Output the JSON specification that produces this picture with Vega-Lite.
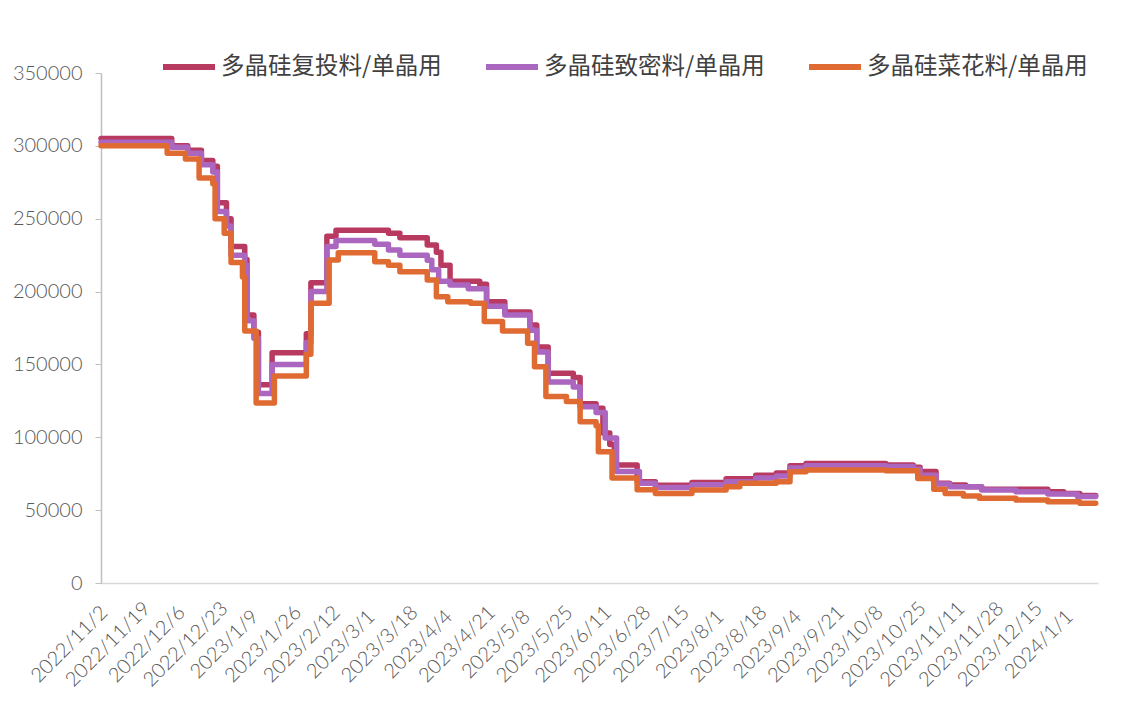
{
  "$schema": "https://vega.github.io/schema/vega-lite/v6.json",
  "width": 997,
  "height": 510,
  "autosize": {"type": "none"},
  "padding": {"left": 101, "top": 73, "right": 24, "bottom": 139},
  "background": "white",
  "config": {"view": {"stroke": null}},
  "data": {"values": [
    {"date": "2022-11-02", "series": "多晶硅复投料/单晶用", "price": 305000},
    {"date": "2022-12-03", "series": "多晶硅复投料/单晶用", "price": 300000},
    {"date": "2022-12-10", "series": "多晶硅复投料/单晶用", "price": 297000},
    {"date": "2022-12-16", "series": "多晶硅复投料/单晶用", "price": 290000},
    {"date": "2022-12-21", "series": "多晶硅复投料/单晶用", "price": 286000},
    {"date": "2022-12-23", "series": "多晶硅复投料/单晶用", "price": 261000},
    {"date": "2022-12-27", "series": "多晶硅复投料/单晶用", "price": 250000},
    {"date": "2022-12-29", "series": "多晶硅复投料/单晶用", "price": 231000},
    {"date": "2023-01-04", "series": "多晶硅复投料/单晶用", "price": 222000},
    {"date": "2023-01-05", "series": "多晶硅复投料/单晶用", "price": 184000},
    {"date": "2023-01-08", "series": "多晶硅复投料/单晶用", "price": 172000},
    {"date": "2023-01-10", "series": "多晶硅复投料/单晶用", "price": 136000},
    {"date": "2023-01-16", "series": "多晶硅复投料/单晶用", "price": 158000},
    {"date": "2023-01-31", "series": "多晶硅复投料/单晶用", "price": 171000},
    {"date": "2023-02-02", "series": "多晶硅复投料/单晶用", "price": 206000},
    {"date": "2023-02-09", "series": "多晶硅复投料/单晶用", "price": 238000},
    {"date": "2023-02-13", "series": "多晶硅复投料/单晶用", "price": 242000},
    {"date": "2023-03-08", "series": "多晶硅复投料/单晶用", "price": 240000},
    {"date": "2023-03-13", "series": "多晶硅复投料/单晶用", "price": 237000},
    {"date": "2023-03-25", "series": "多晶硅复投料/单晶用", "price": 232000},
    {"date": "2023-03-29", "series": "多晶硅复投料/单晶用", "price": 227000},
    {"date": "2023-03-31", "series": "多晶硅复投料/单晶用", "price": 218000},
    {"date": "2023-04-04", "series": "多晶硅复投料/单晶用", "price": 207000},
    {"date": "2023-04-17", "series": "多晶硅复投料/单晶用", "price": 205000},
    {"date": "2023-04-20", "series": "多晶硅复投料/单晶用", "price": 193000},
    {"date": "2023-04-28", "series": "多晶硅复投料/单晶用", "price": 186000},
    {"date": "2023-05-09", "series": "多晶硅复投料/单晶用", "price": 177000},
    {"date": "2023-05-12", "series": "多晶硅复投料/单晶用", "price": 162000},
    {"date": "2023-05-17", "series": "多晶硅复投料/单晶用", "price": 144000},
    {"date": "2023-05-28", "series": "多晶硅复投料/单晶用", "price": 141000},
    {"date": "2023-05-31", "series": "多晶硅复投料/单晶用", "price": 123000},
    {"date": "2023-06-07", "series": "多晶硅复投料/单晶用", "price": 120000},
    {"date": "2023-06-10", "series": "多晶硅复投料/单晶用", "price": 103000},
    {"date": "2023-06-13", "series": "多晶硅复投料/单晶用", "price": 95000},
    {"date": "2023-06-15", "series": "多晶硅复投料/单晶用", "price": 81000},
    {"date": "2023-06-25", "series": "多晶硅复投料/单晶用", "price": 69500},
    {"date": "2023-07-03", "series": "多晶硅复投料/单晶用", "price": 67000},
    {"date": "2023-07-19", "series": "多晶硅复投料/单晶用", "price": 69000},
    {"date": "2023-08-03", "series": "多晶硅复投料/单晶用", "price": 71500},
    {"date": "2023-08-16", "series": "多晶硅复投料/单晶用", "price": 74000},
    {"date": "2023-08-25", "series": "多晶硅复投料/单晶用", "price": 75500},
    {"date": "2023-08-31", "series": "多晶硅复投料/单晶用", "price": 80500},
    {"date": "2023-09-07", "series": "多晶硅复投料/单晶用", "price": 82000},
    {"date": "2023-10-12", "series": "多晶硅复投料/单晶用", "price": 81000},
    {"date": "2023-10-24", "series": "多晶硅复投料/单晶用", "price": 79500},
    {"date": "2023-10-27", "series": "多晶硅复投料/单晶用", "price": 76500},
    {"date": "2023-11-03", "series": "多晶硅复投料/单晶用", "price": 68500},
    {"date": "2023-11-09", "series": "多晶硅复投料/单晶用", "price": 67300},
    {"date": "2023-11-16", "series": "多晶硅复投料/单晶用", "price": 66000},
    {"date": "2023-11-23", "series": "多晶硅复投料/单晶用", "price": 64300},
    {"date": "2023-12-22", "series": "多晶硅复投料/单晶用", "price": 62700},
    {"date": "2023-12-29", "series": "多晶硅复投料/单晶用", "price": 61500},
    {"date": "2024-01-05", "series": "多晶硅复投料/单晶用", "price": 60000},
    {"date": "2024-01-12", "series": "多晶硅复投料/单晶用", "price": 60000},

    {"date": "2022-11-02", "series": "多晶硅致密料/单晶用", "price": 302500},
    {"date": "2022-12-03", "series": "多晶硅致密料/单晶用", "price": 299000},
    {"date": "2022-12-10", "series": "多晶硅致密料/单晶用", "price": 295000},
    {"date": "2022-12-16", "series": "多晶硅致密料/单晶用", "price": 287000},
    {"date": "2022-12-21", "series": "多晶硅致密料/单晶用", "price": 282000},
    {"date": "2022-12-23", "series": "多晶硅致密料/单晶用", "price": 255000},
    {"date": "2022-12-27", "series": "多晶硅致密料/单晶用", "price": 245000},
    {"date": "2022-12-29", "series": "多晶硅致密料/单晶用", "price": 225000},
    {"date": "2023-01-04", "series": "多晶硅致密料/单晶用", "price": 218000},
    {"date": "2023-01-05", "series": "多晶硅致密料/单晶用", "price": 180000},
    {"date": "2023-01-08", "series": "多晶硅致密料/单晶用", "price": 168000},
    {"date": "2023-01-10", "series": "多晶硅致密料/单晶用", "price": 130000},
    {"date": "2023-01-16", "series": "多晶硅致密料/单晶用", "price": 150000},
    {"date": "2023-01-31", "series": "多晶硅致密料/单晶用", "price": 165000},
    {"date": "2023-02-02", "series": "多晶硅致密料/单晶用", "price": 200000},
    {"date": "2023-02-09", "series": "多晶硅致密料/单晶用", "price": 231000},
    {"date": "2023-02-13", "series": "多晶硅致密料/单晶用", "price": 235000},
    {"date": "2023-03-02", "series": "多晶硅致密料/单晶用", "price": 232500},
    {"date": "2023-03-08", "series": "多晶硅致密料/单晶用", "price": 228500},
    {"date": "2023-03-13", "series": "多晶硅致密料/单晶用", "price": 225000},
    {"date": "2023-03-25", "series": "多晶硅致密料/单晶用", "price": 221500},
    {"date": "2023-03-27", "series": "多晶硅致密料/单晶用", "price": 215000},
    {"date": "2023-03-30", "series": "多晶硅致密料/单晶用", "price": 207000},
    {"date": "2023-04-04", "series": "多晶硅致密料/单晶用", "price": 204500},
    {"date": "2023-04-12", "series": "多晶硅致密料/单晶用", "price": 202000},
    {"date": "2023-04-20", "series": "多晶硅致密料/单晶用", "price": 190000},
    {"date": "2023-04-28", "series": "多晶硅致密料/单晶用", "price": 184000},
    {"date": "2023-05-09", "series": "多晶硅致密料/单晶用", "price": 173500},
    {"date": "2023-05-12", "series": "多晶硅致密料/单晶用", "price": 158500},
    {"date": "2023-05-17", "series": "多晶硅致密料/单晶用", "price": 138000},
    {"date": "2023-05-28", "series": "多晶硅致密料/单晶用", "price": 134500},
    {"date": "2023-05-31", "series": "多晶硅致密料/单晶用", "price": 121000},
    {"date": "2023-06-07", "series": "多晶硅致密料/单晶用", "price": 117000},
    {"date": "2023-06-11", "series": "多晶硅致密料/单晶用", "price": 99500},
    {"date": "2023-06-16", "series": "多晶硅致密料/单晶用", "price": 76500},
    {"date": "2023-06-26", "series": "多晶硅致密料/单晶用", "price": 68500},
    {"date": "2023-07-03", "series": "多晶硅致密料/单晶用", "price": 65500},
    {"date": "2023-07-19", "series": "多晶硅致密料/单晶用", "price": 67500},
    {"date": "2023-08-03", "series": "多晶硅致密料/单晶用", "price": 69500},
    {"date": "2023-08-16", "series": "多晶硅致密料/单晶用", "price": 72000},
    {"date": "2023-08-25", "series": "多晶硅致密料/单晶用", "price": 73500},
    {"date": "2023-08-31", "series": "多晶硅致密料/单晶用", "price": 79000},
    {"date": "2023-09-07", "series": "多晶硅致密料/单晶用", "price": 80500},
    {"date": "2023-10-12", "series": "多晶硅致密料/单晶用", "price": 80000},
    {"date": "2023-10-24", "series": "多晶硅致密料/单晶用", "price": 78000},
    {"date": "2023-10-27", "series": "多晶硅致密料/单晶用", "price": 74000},
    {"date": "2023-11-03", "series": "多晶硅致密料/单晶用", "price": 68000},
    {"date": "2023-11-09", "series": "多晶硅致密料/单晶用", "price": 66000},
    {"date": "2023-11-23", "series": "多晶硅致密料/单晶用", "price": 63800},
    {"date": "2023-12-08", "series": "多晶硅致密料/单晶用", "price": 62700},
    {"date": "2023-12-22", "series": "多晶硅致密料/单晶用", "price": 61000},
    {"date": "2024-01-04", "series": "多晶硅致密料/单晶用", "price": 59300},
    {"date": "2024-01-12", "series": "多晶硅致密料/单晶用", "price": 59300},

    {"date": "2022-11-02", "series": "多晶硅菜花料/单晶用", "price": 300000},
    {"date": "2022-12-01", "series": "多晶硅菜花料/单晶用", "price": 295000},
    {"date": "2022-12-09", "series": "多晶硅菜花料/单晶用", "price": 291000},
    {"date": "2022-12-15", "series": "多晶硅菜花料/单晶用", "price": 278000},
    {"date": "2022-12-21", "series": "多晶硅菜花料/单晶用", "price": 274000},
    {"date": "2022-12-22", "series": "多晶硅菜花料/单晶用", "price": 250000},
    {"date": "2022-12-26", "series": "多晶硅菜花料/单晶用", "price": 240000},
    {"date": "2022-12-29", "series": "多晶硅菜花料/单晶用", "price": 220000},
    {"date": "2023-01-03", "series": "多晶硅菜花料/单晶用", "price": 210000},
    {"date": "2023-01-04", "series": "多晶硅菜花料/单晶用", "price": 173000},
    {"date": "2023-01-09", "series": "多晶硅菜花料/单晶用", "price": 123500},
    {"date": "2023-01-17", "series": "多晶硅菜花料/单晶用", "price": 142000},
    {"date": "2023-01-31", "series": "多晶硅菜花料/单晶用", "price": 157000},
    {"date": "2023-02-02", "series": "多晶硅菜花料/单晶用", "price": 192000},
    {"date": "2023-02-10", "series": "多晶硅菜花料/单晶用", "price": 221700},
    {"date": "2023-02-14", "series": "多晶硅菜花料/单晶用", "price": 226700},
    {"date": "2023-03-02", "series": "多晶硅菜花料/单晶用", "price": 220500},
    {"date": "2023-03-08", "series": "多晶硅菜花料/单晶用", "price": 218000},
    {"date": "2023-03-13", "series": "多晶硅菜花料/单晶用", "price": 213600},
    {"date": "2023-03-25", "series": "多晶硅菜花料/单晶用", "price": 208000},
    {"date": "2023-03-29", "series": "多晶硅菜花料/单晶用", "price": 196500},
    {"date": "2023-04-03", "series": "多晶硅菜花料/单晶用", "price": 193000},
    {"date": "2023-04-13", "series": "多晶硅菜花料/单晶用", "price": 192000},
    {"date": "2023-04-19", "series": "多晶硅菜花料/单晶用", "price": 179500},
    {"date": "2023-04-27", "series": "多晶硅菜花料/单晶用", "price": 173000},
    {"date": "2023-05-08", "series": "多晶硅菜花料/单晶用", "price": 164500},
    {"date": "2023-05-11", "series": "多晶硅菜花料/单晶用", "price": 148400},
    {"date": "2023-05-16", "series": "多晶硅菜花料/单晶用", "price": 128000},
    {"date": "2023-05-25", "series": "多晶硅菜花料/单晶用", "price": 124500},
    {"date": "2023-05-31", "series": "多晶硅菜花料/单晶用", "price": 110700},
    {"date": "2023-06-07", "series": "多晶硅菜花料/单晶用", "price": 108000},
    {"date": "2023-06-08", "series": "多晶硅菜花料/单晶用", "price": 90000},
    {"date": "2023-06-14", "series": "多晶硅菜花料/单晶用", "price": 72000},
    {"date": "2023-06-25", "series": "多晶硅菜花料/单晶用", "price": 64000},
    {"date": "2023-07-03", "series": "多晶硅菜花料/单晶用", "price": 61500},
    {"date": "2023-07-19", "series": "多晶硅菜花料/单晶用", "price": 63800},
    {"date": "2023-08-03", "series": "多晶硅菜花料/单晶用", "price": 66000},
    {"date": "2023-08-09", "series": "多晶硅菜花料/单晶用", "price": 68400},
    {"date": "2023-08-25", "series": "多晶硅菜花料/单晶用", "price": 69500},
    {"date": "2023-08-31", "series": "多晶硅菜花料/单晶用", "price": 76400},
    {"date": "2023-09-07", "series": "多晶硅菜花料/单晶用", "price": 77500},
    {"date": "2023-10-12", "series": "多晶硅菜花料/单晶用", "price": 77000},
    {"date": "2023-10-26", "series": "多晶硅菜花料/单晶用", "price": 71800},
    {"date": "2023-11-02", "series": "多晶硅菜花料/单晶用", "price": 64300},
    {"date": "2023-11-07", "series": "多晶硅菜花料/单晶用", "price": 61500},
    {"date": "2023-11-15", "series": "多晶硅菜花料/单晶用", "price": 59700},
    {"date": "2023-11-22", "series": "多晶硅菜花料/单晶用", "price": 58100},
    {"date": "2023-12-08", "series": "多晶硅菜花料/单晶用", "price": 57000},
    {"date": "2023-12-22", "series": "多晶硅菜花料/单晶用", "price": 55800},
    {"date": "2024-01-05", "series": "多晶硅菜花料/单晶用", "price": 54700},
    {"date": "2024-01-12", "series": "多晶硅菜花料/单晶用", "price": 54700}
  ]},
  "mark": {"type": "line", "interpolate": "step-after", "strokeWidth": 5.5, "strokeCap": "round", "strokeJoin": "round"},
  "encoding": {
    "x": {
      "field": "date", "type": "temporal",
      "scale": {"type": "utc", "domain": [{"year": 2022, "month": 11, "date": 2, "utc": true}, {"year": 2024, "month": 1, "date": 13, "utc": true}]},
      "axis": {
        "title": null,
        "labelExpr": "utcFormat(datum.value, '%Y/%-m/%-d')",
        "values": [
          {"year": 2022, "month": 11, "date": 2, "utc": true},
          {"year": 2022, "month": 11, "date": 19, "utc": true},
          {"year": 2022, "month": 12, "date": 6, "utc": true},
          {"year": 2022, "month": 12, "date": 23, "utc": true},
          {"year": 2023, "month": 1, "date": 9, "utc": true},
          {"year": 2023, "month": 1, "date": 26, "utc": true},
          {"year": 2023, "month": 2, "date": 12, "utc": true},
          {"year": 2023, "month": 3, "date": 1, "utc": true},
          {"year": 2023, "month": 3, "date": 18, "utc": true},
          {"year": 2023, "month": 4, "date": 4, "utc": true},
          {"year": 2023, "month": 4, "date": 21, "utc": true},
          {"year": 2023, "month": 5, "date": 8, "utc": true},
          {"year": 2023, "month": 5, "date": 25, "utc": true},
          {"year": 2023, "month": 6, "date": 11, "utc": true},
          {"year": 2023, "month": 6, "date": 28, "utc": true},
          {"year": 2023, "month": 7, "date": 15, "utc": true},
          {"year": 2023, "month": 8, "date": 1, "utc": true},
          {"year": 2023, "month": 8, "date": 18, "utc": true},
          {"year": 2023, "month": 9, "date": 4, "utc": true},
          {"year": 2023, "month": 9, "date": 21, "utc": true},
          {"year": 2023, "month": 10, "date": 8, "utc": true},
          {"year": 2023, "month": 10, "date": 25, "utc": true},
          {"year": 2023, "month": 11, "date": 11, "utc": true},
          {"year": 2023, "month": 11, "date": 28, "utc": true},
          {"year": 2023, "month": 12, "date": 15, "utc": true},
          {"year": 2024, "month": 1, "date": 1, "utc": true}
        ],
        "labelAngle": -45,
        "labelAlign": "center",
        "labelBaseline": "middle",
        "labelOffset": -32,
        "labelOverlap": false,
        "labelFont": "Lato",
        "labelFontSize": 20,
        "labelFontWeight": 300,
        "labelColor": "#595959",
        "labelPadding": 61,
        "ticks": false,
        "grid": false,
        "domainColor": "#d9d9d9",
        "domainWidth": 1.5
      }
    },
    "y": {
      "field": "price", "type": "quantitative",
      "scale": {"domain": [0, 350000], "nice": false},
      "axis": {
        "title": null,
        "values": [0, 50000, 100000, 150000, 200000, 250000, 300000, 350000],
        "format": "d",
        "grid": false,
        "labelFont": "Lato",
        "labelFontSize": 20,
        "labelFontWeight": 300,
        "labelColor": "#595959",
        "labelPadding": 13,
        "tickSize": 6,
        "tickColor": "#bfbfbf",
        "domainColor": "#bfbfbf",
        "domainWidth": 1.5
      }
    },
    "color": {
      "field": "series", "type": "nominal",
      "scale": {
        "domain": ["多晶硅复投料/单晶用", "多晶硅致密料/单晶用", "多晶硅菜花料/单晶用"],
        "range": ["#b93a60", "#ab66bf", "#e06b32"]
      },
      "legend": {
        "title": null,
        "orient": "none",
        "direction": "horizontal",
        "legendX": 59,
        "legendY": -35,
        "symbolType": "stroke",
        "symbolSize": 2704,
        "symbolStrokeWidth": 6,
        "labelFont": "Noto Sans CJK SC",
        "labelFontSize": 23.5,
        "labelColor": "#404040",
        "labelOffset": 3,
        "labelLimit": 400,
        "columnPadding": 32
      }
    }
  }
}
